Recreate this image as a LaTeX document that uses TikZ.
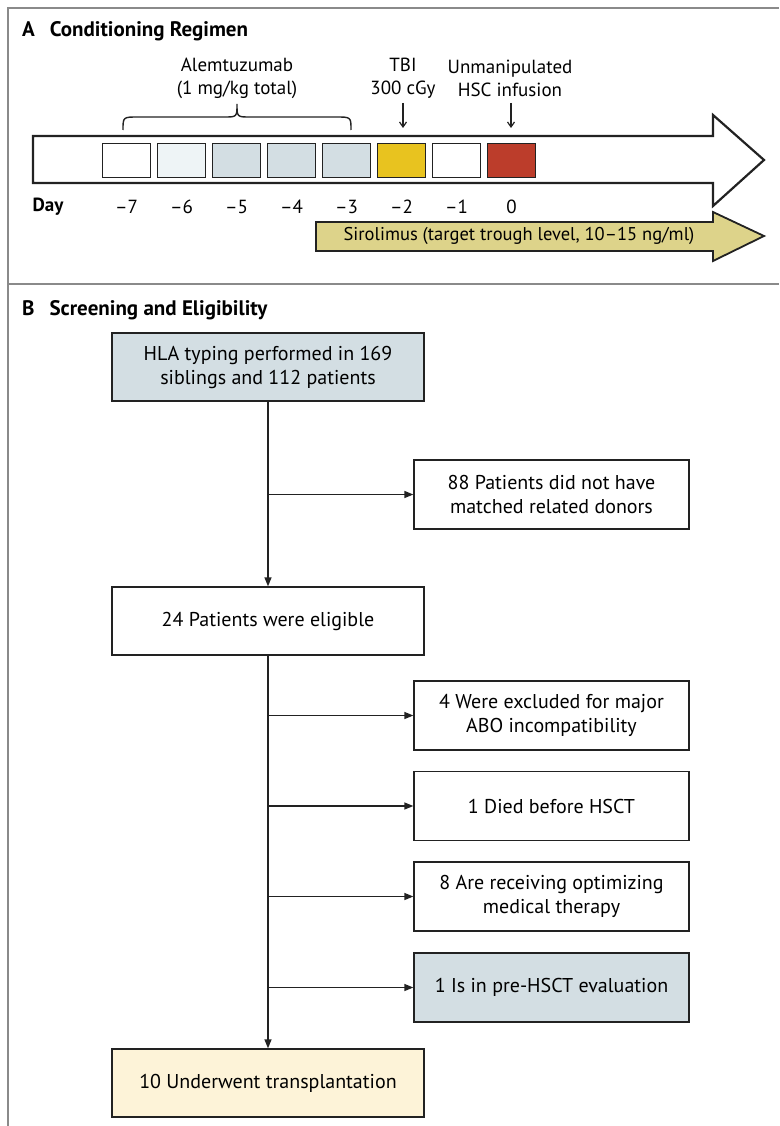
\documentclass[tikz,border=0pt]{standalone}
\usepackage{fontspec}
\setmainfont{PT Sans}
\usetikzlibrary{arrows.meta}
\definecolor{frame}{HTML}{8A8A8A}
\definecolor{ink}{HTML}{222222}
\definecolor{bluegray}{HTML}{D3DEE3}
\definecolor{paleblue}{HTML}{EEF4F6}
\definecolor{tbiyellow}{HTML}{E8C31F}
\definecolor{hscred}{HTML}{BC3D2B}
\definecolor{siro}{HTML}{DDD38A}
\definecolor{cream}{HTML}{FDF3D8}
\tikzset{
  x=1pt, y=-1pt,
  daybox/.style={draw=ink, line width=1.6pt, minimum width=48pt, minimum height=34pt, inner sep=0pt},
  flowbox/.style={draw=ink, line width=1.3pt, align=center, inner sep=0pt, font=\fontsize{20}{24}\selectfont},
  mainbox/.style={flowbox, minimum width=312pt, minimum height=68pt},
  sidebox/.style={flowbox, minimum width=275pt, minimum height=69pt},
  lbl/.style={font=\fontsize{19}{23}\selectfont, align=center, inner sep=0pt},
  daylbl/.style={font=\fontsize{19}{23}\selectfont, inner sep=0pt},
  ttl/.style={font=\fontsize{21}{24}\selectfont\bfseries, inner sep=0pt, anchor=west},
  flowarrow/.style={draw=ink, line width=1.3pt, -{Triangle[length=9pt,width=7pt]}},
  smallarrow/.style={draw=ink, line width=1.2pt, -{Straight Barb[length=5pt,width=7pt]}},
}
\begin{document}
\begin{tikzpicture}
\useasboundingbox (0,0) rectangle (779,1126);
\fill[white] (0,0) rectangle (779,1126);
% frame
\draw[frame, line width=2pt] (8,1126) -- (8,8) -- (779,8);
\draw[frame, line width=2pt] (8,284) -- (779,284);

% titles
\node[ttl] (tA) at (22,31) {A\hspace{15pt}Conditioning Regimen};
\node[ttl] (tB) at (22,310) {B\hspace{15pt}Screening and Eligibility};

% main timeline arrow
\draw[ink, line width=2.2pt, fill=white, line join=miter]
  (33,136) -- (713,136) -- (713,115) -- (764,160) -- (713,206) -- (713,183) -- (33,183) -- cycle;

% day squares
\node[daybox, fill=white]      (d7) at (126.5,160.5) {};
\node[daybox, fill=paleblue]   (d6) at (181.5,160.5) {};
\node[daybox, fill=bluegray]   (d5) at (236.5,160.5) {};
\node[daybox, fill=bluegray]   (d4) at (291.5,160.5) {};
\node[daybox, fill=bluegray]   (d3) at (346.5,160.5) {};
\node[daybox, fill=tbiyellow]  (d2) at (401.5,160.5) {};
\node[daybox, fill=white]      (d1) at (456.5,160.5) {};
\node[daybox, fill=hscred]     (d0) at (511.5,160.5) {};

% day labels
\node[daylbl, font=\fontsize{19}{23}\selectfont\bfseries] (day) at (48,207) {Day};
\node[daylbl] (l7) at (126.5,207) {–7};
\node[daylbl] (l6) at (181.5,207) {–6};
\node[daylbl] (l5) at (236.5,207) {–5};
\node[daylbl] (l4) at (291.5,207) {–4};
\node[daylbl] (l3) at (346.5,207) {–3};
\node[daylbl] (l2) at (401.5,207) {–2};
\node[daylbl] (l1) at (456.5,207) {–1};
\node[daylbl] (l0) at (511.5,207) {0};

% brace
\draw[ink, line width=1.4pt]
  (123,130) .. controls (123,117) .. (138,117) -- (224,117)
  .. controls (237,117) .. (237,104) .. controls (237,117) .. (250,117)
  -- (336,117) .. controls (351,117) .. (351,130);

% upper labels
\node[lbl] (alem) at (237,78) {Alemtuzumab\\(1 mg/kg total)};
\node[lbl] (tbi) at (403,78) {TBI\\300 cGy};
\node[lbl] (hsc) at (510,78) {Unmanipulated\\HSC infusion};
\coordinate (tbiend) at (403,128);
\coordinate (hscend) at (511,128);
\draw[smallarrow] (403,103) -- (tbiend);
\draw[smallarrow] (511,103) -- (hscend);

% sirolimus arrow
\draw[ink, line width=1.8pt, fill=siro, line join=miter]
  (316,222) -- (713,222) -- (713,212) -- (764,236) -- (713,261) -- (713,251) -- (316,251) -- cycle;
\node[lbl, font=\fontsize{18.5}{23}\selectfont] (siro) at (519,236) {Sirolimus (target trough level, 10–15 ng/ml)};

% flow chart
\node[mainbox, fill=bluegray] (hla) at (268,367) {HLA typing performed in 169\\siblings and 112 patients};
\node[sidebox] (nomatch) at (551.5,494.5) {88 Patients did not have\\matched related donors};
\node[mainbox] (elig) at (268,621) {24 Patients were eligible};
\node[sidebox] (abo) at (551.5,715.5) {4 Were excluded for major\\ABO incompatibility};
\node[sidebox] (died) at (551.5,806) {1 Died before HSCT};
\node[sidebox] (omt) at (551.5,896.5) {8 Are receiving optimizing\\medical therapy};
\node[sidebox, fill=bluegray] (pre) at (551.5,987.5) {1 Is in pre-HSCT evaluation};
\node[mainbox, fill=cream] (tx) at (268,1083) {10 Underwent transplantation};

\draw[flowarrow] (hla.south) -- (elig.north);
\draw[flowarrow] (hla.south |- nomatch.west) -- (nomatch.west);
\draw[flowarrow] (elig.south) -- (tx.north);
\draw[flowarrow] (elig.south |- abo.west) -- (abo.west);
\draw[flowarrow] (elig.south |- died.west) -- (died.west);
\draw[flowarrow] (elig.south |- omt.west) -- (omt.west);
\draw[flowarrow] (elig.south |- pre.west) -- (pre.west);
\end{tikzpicture}
\end{document}
